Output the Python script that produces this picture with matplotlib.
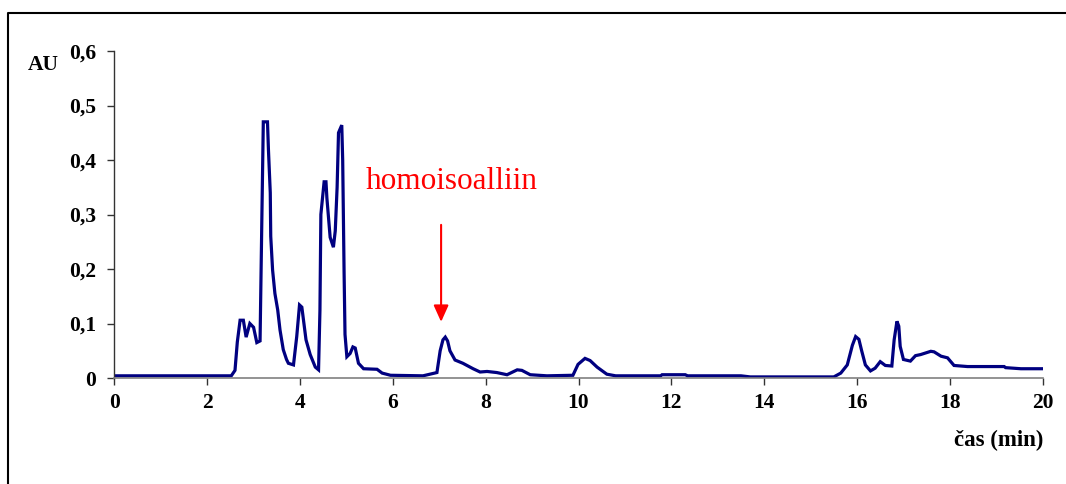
import matplotlib
matplotlib.use("Agg")
import matplotlib.pyplot as plt
from matplotlib.lines import Line2D

time_min = [0, 2.52, 2.6, 2.65, 2.71, 2.78, 2.84, 2.92, 3.0, 3.07, 3.14, 3.18, 3.21, 3.3, 3.32,
            3.36, 3.37, 3.41, 3.46, 3.52, 3.57, 3.64, 3.71, 3.75, 3.86, 3.93, 3.99, 4.04, 4.07,
            4.13, 4.22, 4.33, 4.4, 4.43, 4.45, 4.52, 4.56, 4.58, 4.65, 4.72, 4.76, 4.8, 4.83,
            4.9, 4.92, 4.95, 4.97, 5.01, 5.08, 5.14, 5.19, 5.26, 5.37, 5.66, 5.77, 5.95, 6.65,
            6.95, 7.02, 7.08, 7.13, 7.18, 7.23, 7.34, 7.51, 7.73, 7.88, 8.03, 8.24, 8.46, 8.68,
            8.78, 8.96, 9.32, 9.88, 9.99, 10.14, 10.25, 10.4, 10.61, 10.8, 11.77, 11.8, 12.3,
            12.35, 13.5, 13.7, 15.5, 15.65, 15.79, 15.9, 15.97, 16.04, 16.1, 16.18, 16.29,
            16.39, 16.5, 16.61, 16.75, 16.8, 16.86, 16.9, 16.93, 17.0, 17.15, 17.26, 17.37,
            17.59, 17.66, 17.81, 17.95, 18.09, 18.38, 19.17, 19.2, 19.53, 20]
absorbance = [0.004, 0.004, 0.014, 0.066, 0.106, 0.106, 0.075, 0.1, 0.093, 0.065, 0.068, 0.30,
              0.47, 0.47, 0.42, 0.34, 0.26, 0.198, 0.155, 0.125, 0.088, 0.052, 0.034, 0.027,
              0.024, 0.076, 0.134, 0.13, 0.11, 0.07, 0.043, 0.02, 0.015, 0.124, 0.30, 0.36,
              0.36, 0.33, 0.258, 0.24, 0.27, 0.35, 0.45, 0.464, 0.40, 0.195, 0.08, 0.039,
              0.045, 0.057, 0.055, 0.027, 0.017, 0.016, 0.009, 0.005, 0.004, 0.01, 0.05, 0.07,
              0.075, 0.068, 0.05, 0.033, 0.027, 0.017, 0.011, 0.012, 0.01, 0.006, 0.015, 0.014,
              0.006, 0.004, 0.005, 0.025, 0.036, 0.032, 0.02, 0.007, 0.004, 0.004, 0.006, 0.006,
              0.004, 0.004, 0.002, 0.002, 0.009, 0.024, 0.06, 0.076, 0.071, 0.05, 0.024, 0.013,
              0.018, 0.03, 0.023, 0.022, 0.07, 0.104, 0.095, 0.058, 0.034, 0.031, 0.041, 0.043,
              0.049, 0.048, 0.04, 0.037, 0.023, 0.021, 0.021, 0.019, 0.017, 0.017]

x_ticks = [0, 2, 4, 6, 8, 10, 12, 14, 16, 18, 20]
y_ticks = [0, 0.1, 0.2, 0.3, 0.4, 0.5, 0.6]
y_tick_labels = ["0", "0,1", "0,2", "0,3", "0,4", "0,5", "0,6"]

annot_label = "homoisoalliin"
annot_time = 7.04
annot_tail = 0.281
annot_tip = 0.103

W, H = 1066, 484
fig = plt.figure(figsize=(W / 100, H / 100), dpi=100)
fig.patch.set_facecolor("white")

left = 114.3 / W
right = 1042.7 / W
bottom = 1 - 378 / H
top = 1 - 51 / H
ax = fig.add_axes([left, bottom, right - left, top - bottom])

ax.plot(time_min, absorbance, color="#000080", lw=2.3, solid_joinstyle="miter")
ax.set_xlim(0, 20)
ax.set_ylim(0, 0.6)

for s in ["top", "right"]:
    ax.spines[s].set_visible(False)
ax.spines["left"].set_color("#333333")
ax.spines["bottom"].set_color("#808080")
ax.spines["left"].set_linewidth(1.0)
ax.spines["bottom"].set_linewidth(1.2)

tickfont = dict(family="Liberation Serif", weight="bold", size=15.5)
ax.set_xticks(x_ticks)
ax.set_xticklabels([str(t) for t in x_ticks], **tickfont)
ax.set_yticks(y_ticks)
ax.set_yticklabels(y_tick_labels, **tickfont)
ax.tick_params(axis="both", direction="out", length=5, width=1, color="#333333")
ax.tick_params(axis="x", pad=6)
ax.tick_params(axis="y", pad=8)

fig.text(43 / W, 1 - 65 / H, "AU", ha="center", va="center", **tickfont)
fig.text(1043 / W, 1 - 440 / H, "čas (min)", ha="right", va="center",
         family="Liberation Serif", weight="bold", size=16.5)

ax.text(7.26, 0.361, annot_label, color="red", ha="center", va="center",
        family="Liberation Serif", size=22.5)
ax.annotate("", xy=(annot_time, annot_tip), xytext=(annot_time, annot_tail),
            arrowprops=dict(arrowstyle="-|>,head_length=1.0,head_width=0.45",
                            color="red", lw=1.5, shrinkA=0, shrinkB=0))

# figure border (top and left lines)
fig.add_artist(Line2D([8 / W, 8 / W, 1.0], [0, 1 - 13 / H, 1 - 13 / H],
                      transform=fig.transFigure, color="black", lw=1.5))

fig.savefig("out.png", dpi=100)
